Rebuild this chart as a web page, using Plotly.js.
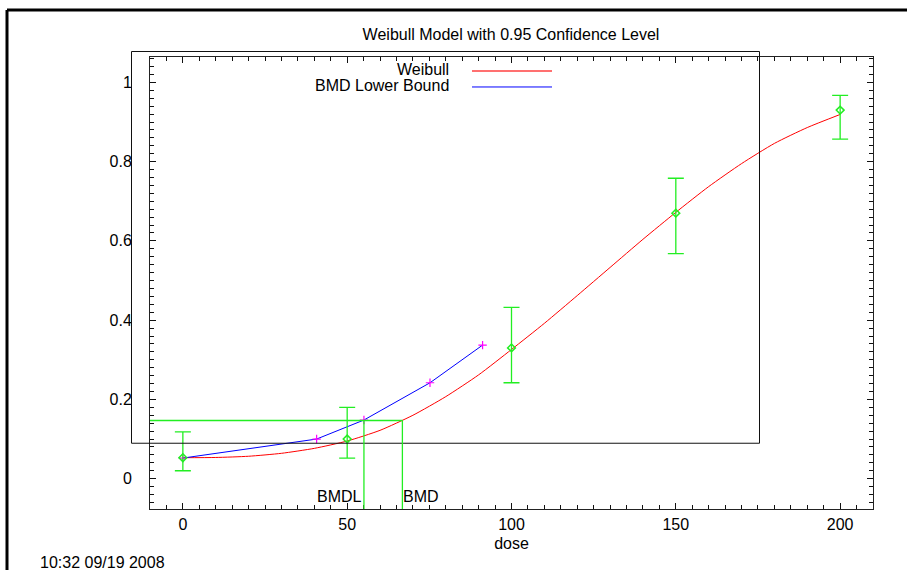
<!DOCTYPE html>
<html>
<head>
<meta charset="utf-8">
<script src="https://cdn.plot.ly/plotly-3.0.1.min.js"></script>
<style>html,body{margin:0;padding:0;background:#fff;}#chart{width:907px;height:570px;}</style>
</head>
<body>
<div id="chart"></div>
<script>
// ---- data ----
const doses = [0, 50, 100, 150, 200];
const observed = [0.053, 0.100, 0.330, 0.670, 0.930];
const ciUpper = [0.118, 0.180, 0.432, 0.758, 0.967];
const ciLower = [0.020, 0.052, 0.242, 0.568, 0.857];

const weibullDose = [0, 10, 20, 30, 40, 50, 60, 70, 80, 90, 100, 110, 120, 130, 140, 150, 160, 170, 180, 190, 200];
const weibullResp = [0.053, 0.0535, 0.0566, 0.064, 0.0765, 0.095, 0.122, 0.160, 0.207, 0.262, 0.326, 0.392, 0.462, 0.533, 0.604, 0.672, 0.737, 0.795, 0.846, 0.886, 0.919];

const lowerDose = [0, 40.7, 55.1, 75.2, 91.2];
const lowerResp = [0.052, 0.100, 0.148, 0.242, 0.337];

const bmrLevel = 0.147;
const bmdl = 55.1;
const bmd = 66.8;

const legendLabels = ["Weibull", "BMD Lower Bound"];
const titleText = "Weibull Model with 0.95 Confidence Level";
const xTitle = "dose";
const timestamp = "10:32 09/19 2008";

// ---- layout helpers (pixel -> paper) ----
const W = 907, H = 570;
const L = 150, R = 873, T = 57, B = 509.3;
const px = v => (v - L) / (R - L);
const py = v => (B - v) / (B - T);
const FONT = "Liberation Sans, Arial, sans-serif";
const FS = 16;
const green = "#22ee22";
const xRange = [-10, 210];
const yRange = [-0.0765, 1.064];

const traces = [
  {x: weibullDose, y: weibullResp, mode: "lines", line: {color: "#ff0000", width: 1, shape: "spline", smoothing: 0.6}, showlegend: false, hoverinfo: "skip"},
  {x: lowerDose, y: lowerResp, mode: "lines+markers", line: {color: "#0000ff", width: 1},
   marker: {symbol: "cross-thin-open", size: 6, color: "#ff00ff", line: {color: "#ff00ff", width: 1.2}}, showlegend: false},
  {x: doses, y: observed, mode: "markers",
   marker: {symbol: "diamond-open", size: 6, color: green, line: {color: green, width: 1.5}},
   error_y: {type: "data", symmetric: false,
     array: ciUpper.map((u, i) => u - observed[i]),
     arrayminus: ciLower.map((l, i) => observed[i] - l),
     color: green, thickness: 1.3, width: 8},
   showlegend: false}
];

const shapes = [
  {type: "line", xref: "paper", yref: "paper", x0: px(7), x1: px(910), y0: py(10), y1: py(10), line: {color: "#000", width: 3}},
  {type: "line", xref: "paper", yref: "paper", x0: px(7), x1: px(7), y0: py(10), y1: py(575), line: {color: "#000", width: 3}},
  {type: "rect", xref: "paper", yref: "paper", x0: px(131.5), x1: px(759.5), y0: py(51.5), y1: py(443.5), line: {color: "#111", width: 1}},
  {type: "line", xref: "paper", yref: "paper", x0: px(472), x1: px(552), y0: py(71), y1: py(71), line: {color: "#ff7070", width: 2}},
  {type: "line", xref: "paper", yref: "paper", x0: px(472), x1: px(552), y0: py(87), y1: py(87), line: {color: "#0000ff", width: 1}},
  {type: "line", xref: "paper", yref: "y", x0: 0, x1: px(150 + (bmd + 10) * 3.2865), y0: bmrLevel, y1: bmrLevel, line: {color: green, width: 1.5}},
  {type: "line", xref: "x", yref: "paper", x0: bmdl, x1: bmdl, y0: 0, y1: py(420.7), line: {color: green, width: 1.3}},
  {type: "line", xref: "x", yref: "paper", x0: bmd, x1: bmd, y0: 0, y1: py(420.7), line: {color: green, width: 1.3}}
];

const annotations = [
  {xref: "paper", yref: "paper", x: px(451), y: py(70), xanchor: "right", yanchor: "middle", text: legendLabels[0], showarrow: false, font: {family: FONT, size: FS, color: "#000"}},
  {xref: "paper", yref: "paper", x: px(451), y: py(86), xanchor: "right", yanchor: "middle", text: legendLabels[1], showarrow: false, font: {family: FONT, size: FS, color: "#000"}},
  {xref: "x", yref: "paper", x: bmdl, y: py(497), xanchor: "right", yanchor: "middle", xshift: 0, text: "BMDL", showarrow: false, font: {family: FONT, size: FS, color: "#000"}},
  {xref: "x", yref: "paper", x: bmd, y: py(497), xanchor: "left", yanchor: "middle", xshift: -1, text: "BMD", showarrow: false, font: {family: FONT, size: FS, color: "#000"}},
  {xref: "paper", yref: "paper", x: px(38), y: py(563), xanchor: "left", yanchor: "middle", text: timestamp, showarrow: false, font: {family: FONT, size: FS, color: "#000"}}
];

const axisCommon = {
  showgrid: false, zeroline: false, showline: true, linecolor: "#222", linewidth: 1,
  mirror: "ticks", ticks: "inside", tickcolor: "#111", tickwidth: 1, ticklen: 6,
  tickfont: {family: FONT, size: FS, color: "#000"}
};

const layout = {
  width: W, height: H,
  margin: {l: L, r: W - R, t: T, b: H - B},
  paper_bgcolor: "#fff", plot_bgcolor: "#fff",
  showlegend: false,
  title: {text: titleText, font: {family: FONT, size: FS, color: "#000"}, x: px(511), xref: "paper", xanchor: "center", y: 1 - 34 / H, yref: "container", yanchor: "middle"},
  xaxis: Object.assign({}, axisCommon, {
    range: xRange, dtick: 50, ticklabelstandoff: 1,
    minor: {dtick: 5, ticks: "inside", ticklen: 4, tickcolor: "#111", tickwidth: 1},
    title: {text: xTitle, font: {family: FONT, size: FS, color: "#000"}, standoff: 5}
  }),
  yaxis: Object.assign({}, axisCommon, {
    range: yRange, dtick: 0.2, ticklabelstandoff: 14,
    minor: {dtick: 0.02, ticks: "inside", ticklen: 4, tickcolor: "#111", tickwidth: 1}
  }),
  shapes: shapes,
  annotations: annotations
};

Plotly.newPlot("chart", traces, layout, {staticPlot: true, displayModeBar: false});
</script>
</body>
</html>
